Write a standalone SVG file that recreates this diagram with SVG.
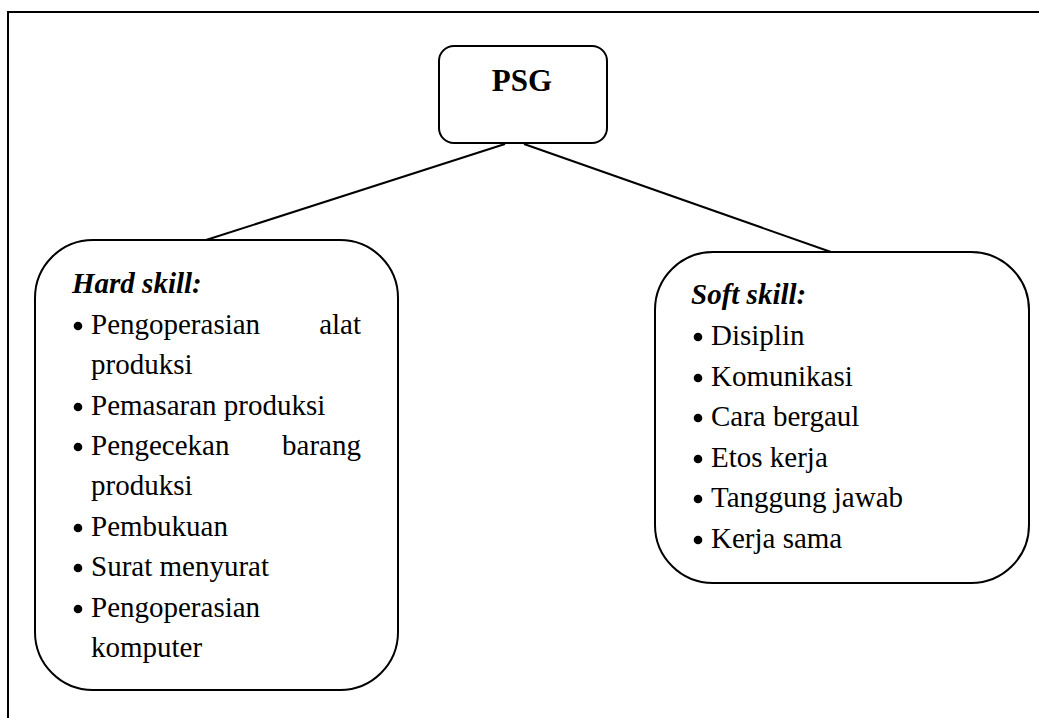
<svg xmlns="http://www.w3.org/2000/svg" width="1039" height="718" viewBox="0 0 1039 718">
<style>
.box{fill:#fff;stroke:#000;stroke-width:2}
.t{font-family:"Liberation Serif","Times New Roman",serif;font-size:29px;fill:#000}
.h{font-weight:bold;font-style:italic}
.edge{stroke:#000;stroke-width:2;fill:none}
</style>
<rect x="0" y="0" width="1039" height="718" fill="#fff"/>
<rect x="8" y="12" width="1060" height="740" fill="none" stroke="#000" stroke-width="2"/>
<g id="connectors">
<line class="edge" x1="505" y1="144" x2="206" y2="240"/>
<line class="edge" x1="524" y1="144" x2="831" y2="252"/>
</g>
<g id="psg">
<rect class="box" x="439" y="46" width="168" height="97" rx="15" ry="15"/>
<text class="t" x="522" y="91" text-anchor="middle" style="font-size:31px;font-weight:bold">PSG</text>
</g>
<g id="hard">
<rect class="box" x="35" y="240" width="363" height="450" rx="58" ry="58"/>
<text class="t h" x="72" y="293">Hard skill:</text>
<g fill="#000">
<circle cx="78" cy="326" r="4.3"/>
<circle cx="78" cy="407" r="4.3"/>
<circle cx="78" cy="447" r="4.3"/>
<circle cx="78" cy="528" r="4.3"/>
<circle cx="78" cy="568" r="4.3"/>
<circle cx="78" cy="609" r="4.3"/>
</g>
<text class="t" x="91" y="334">Pengoperasian</text>
<text class="t" x="361" y="334" text-anchor="end">alat</text>
<text class="t" x="91" y="374">produksi</text>
<text class="t" x="91" y="415">Pemasaran produksi</text>
<text class="t" x="91" y="455">Pengecekan</text>
<text class="t" x="361" y="455" text-anchor="end">barang</text>
<text class="t" x="91" y="495">produksi</text>
<text class="t" x="91" y="536">Pembukuan</text>
<text class="t" x="91" y="576">Surat menyurat</text>
<text class="t" x="91" y="617">Pengoperasian</text>
<text class="t" x="91" y="657">komputer</text>
</g>
<g id="soft">
<rect class="box" x="655" y="252" width="374" height="331" rx="58" ry="58"/>
<text class="t h" x="691" y="304">Soft skill:</text>
<g fill="#000">
<circle cx="698" cy="337" r="4.3"/>
<circle cx="698" cy="378" r="4.3"/>
<circle cx="698" cy="418" r="4.3"/>
<circle cx="698" cy="459" r="4.3"/>
<circle cx="698" cy="499" r="4.3"/>
<circle cx="698" cy="540" r="4.3"/>
</g>
<text class="t" x="711" y="345">Disiplin</text>
<text class="t" x="711" y="386">Komunikasi</text>
<text class="t" x="711" y="426">Cara bergaul</text>
<text class="t" x="711" y="467">Etos kerja</text>
<text class="t" x="711" y="507">Tanggung jawab</text>
<text class="t" x="711" y="548">Kerja sama</text>
</g>
</svg>
